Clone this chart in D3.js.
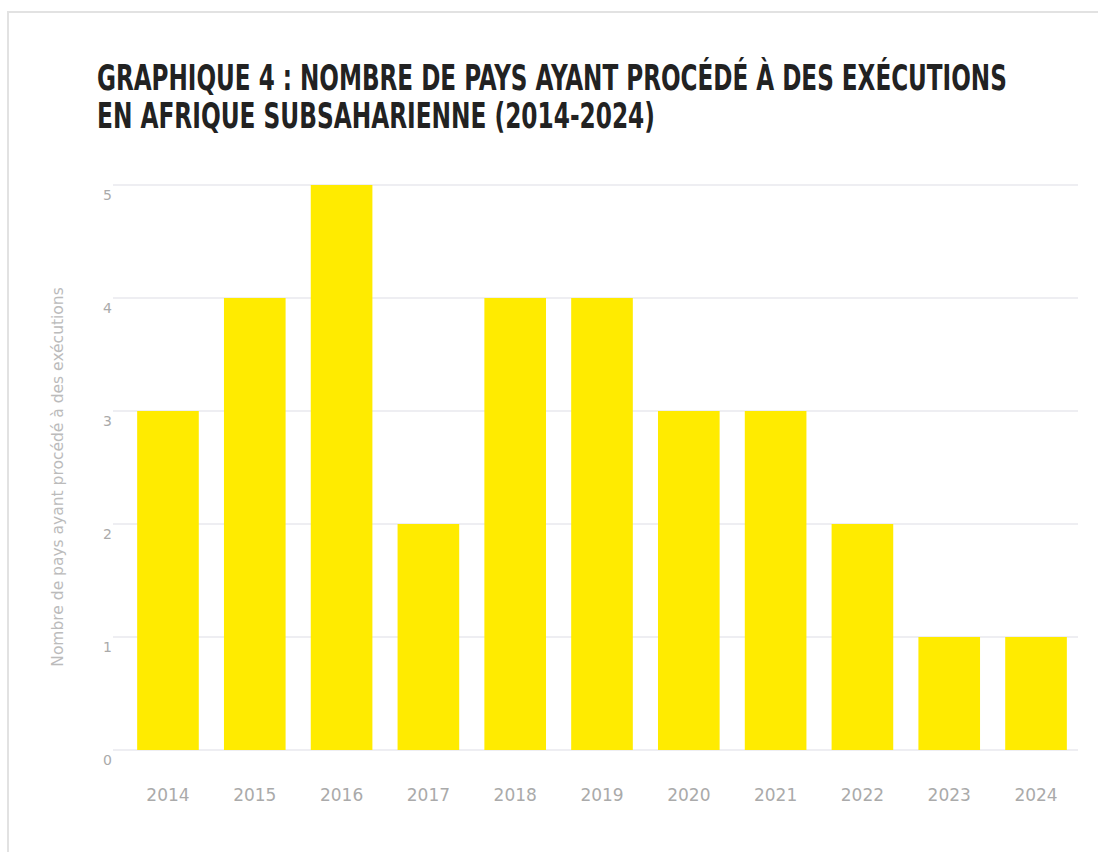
<!DOCTYPE html>
<html>
<head>
<meta charset="utf-8">
<script src="https://cdn.jsdelivr.net/npm/d3@7"></script>
<style>
  body { margin: 0; background: #fff; }
</style>
</head>
<body>
<div id="graph"></div>
<script>
const years = ["2014", "2015", "2016", "2017", "2018", "2019", "2020", "2021", "2022", "2023", "2024"]
const countries = [3, 4, 5, 2, 4, 4, 3, 3, 2, 1, 1]
const yTicks = [0, 1, 2, 3, 4, 5]
const titleLines = [
  "GRAPHIQUE 4 : NOMBRE DE PAYS AYANT PROCÉDÉ À DES EXÉCUTIONS",
  "EN AFRIQUE SUBSAHARIENNE (2014-2024)"
]
const yTitle = "Nombre de pays ayant procédé à des exécutions"

const W = 1098, H = 852

const svg = d3.select("#graph").append("svg")
  .attr("width", W)
  .attr("height", H)

// frame lines (top + left)
svg.append("path")
  .attr("d", "M8," + H + "V12H" + W)
  .attr("fill", "none")
  .attr("stroke", "#e2e2e2")
  .attr("stroke-width", 2)

// title : condensed bold, squeezed to the width of the original
const titleW = [910, 558]
titleLines.forEach((line, i) => {
  const g = svg.append("g")
  const t = g.append("text")
    .attr("x", 0)
    .attr("y", 0)
    .style("font-family", "'Liberation Sans Narrow', 'DejaVu Sans Condensed', 'Liberation Sans', sans-serif")
    .style("font-weight", "bold")
    .style("font-size", "28px")
    .attr("fill", "#222")
    .text(line)
  const len = t.node().getComputedTextLength()
  g.attr("transform", "translate(97," + (90 + i * 38) + ") scale(" + (titleW[i] / len) + ",1.25)")
})

// scales
const x = d3.scaleBand()
  .domain(years)
  .range([125, 1079])
  .paddingInner(0.29)
  .paddingOuter(0.14)

const y = d3.scaleLinear()
  .domain([0, 5])
  .range([750, 185])

// gridlines
svg.selectAll(".grid")
  .data(yTicks)
  .enter()
  .append("line")
  .attr("class", "grid")
  .attr("x1", 113)
  .attr("x2", 1078)
  .attr("y1", d => y(d))
  .attr("y2", d => y(d))
  .attr("stroke", "#e9e9ee")
  .attr("stroke-width", 1.5)

// bars
svg.selectAll(".bar")
  .data(countries)
  .enter()
  .append("rect")
  .attr("class", "bar")
  .attr("x", (d, i) => x(years[i]))
  .attr("width", x.bandwidth())
  .attr("y", d => y(d))
  .attr("height", d => y(0) - y(d))
  .attr("fill", "#ffeb00")

// y axis (labels sit just under their gridline)
const yAxis = d3.axisLeft(y).tickValues(yTicks).tickFormat(d3.format("d")).tickSize(0).tickPadding(0)
const gy = svg.append("g")
  .attr("transform", "translate(112,0)")
  .call(yAxis)
gy.select(".domain").remove()
gy.selectAll("text")
  .attr("dy", "1.05em")
  .attr("fill", "#aaa")
  .style("font-family", "'DejaVu Sans', sans-serif")
  .style("font-size", "14px")

// x axis
const xAxis = d3.axisBottom(x).tickSize(0).tickPadding(0)
const gx = svg.append("g")
  .attr("transform", "translate(0,789)")
  .call(xAxis)
gx.select(".domain").remove()
gx.selectAll("text")
  .attr("fill", "#aaa")
  .style("font-family", "'DejaVu Sans', sans-serif")
  .style("font-size", "17px")

// y title
svg.append("text")
  .attr("transform", "translate(63,477) rotate(-90)")
  .attr("text-anchor", "middle")
  .attr("fill", "#bbb")
  .style("font-family", "'DejaVu Sans', sans-serif")
  .style("font-size", "15.5px")
  .text(yTitle)
</script>
</body>
</html>
